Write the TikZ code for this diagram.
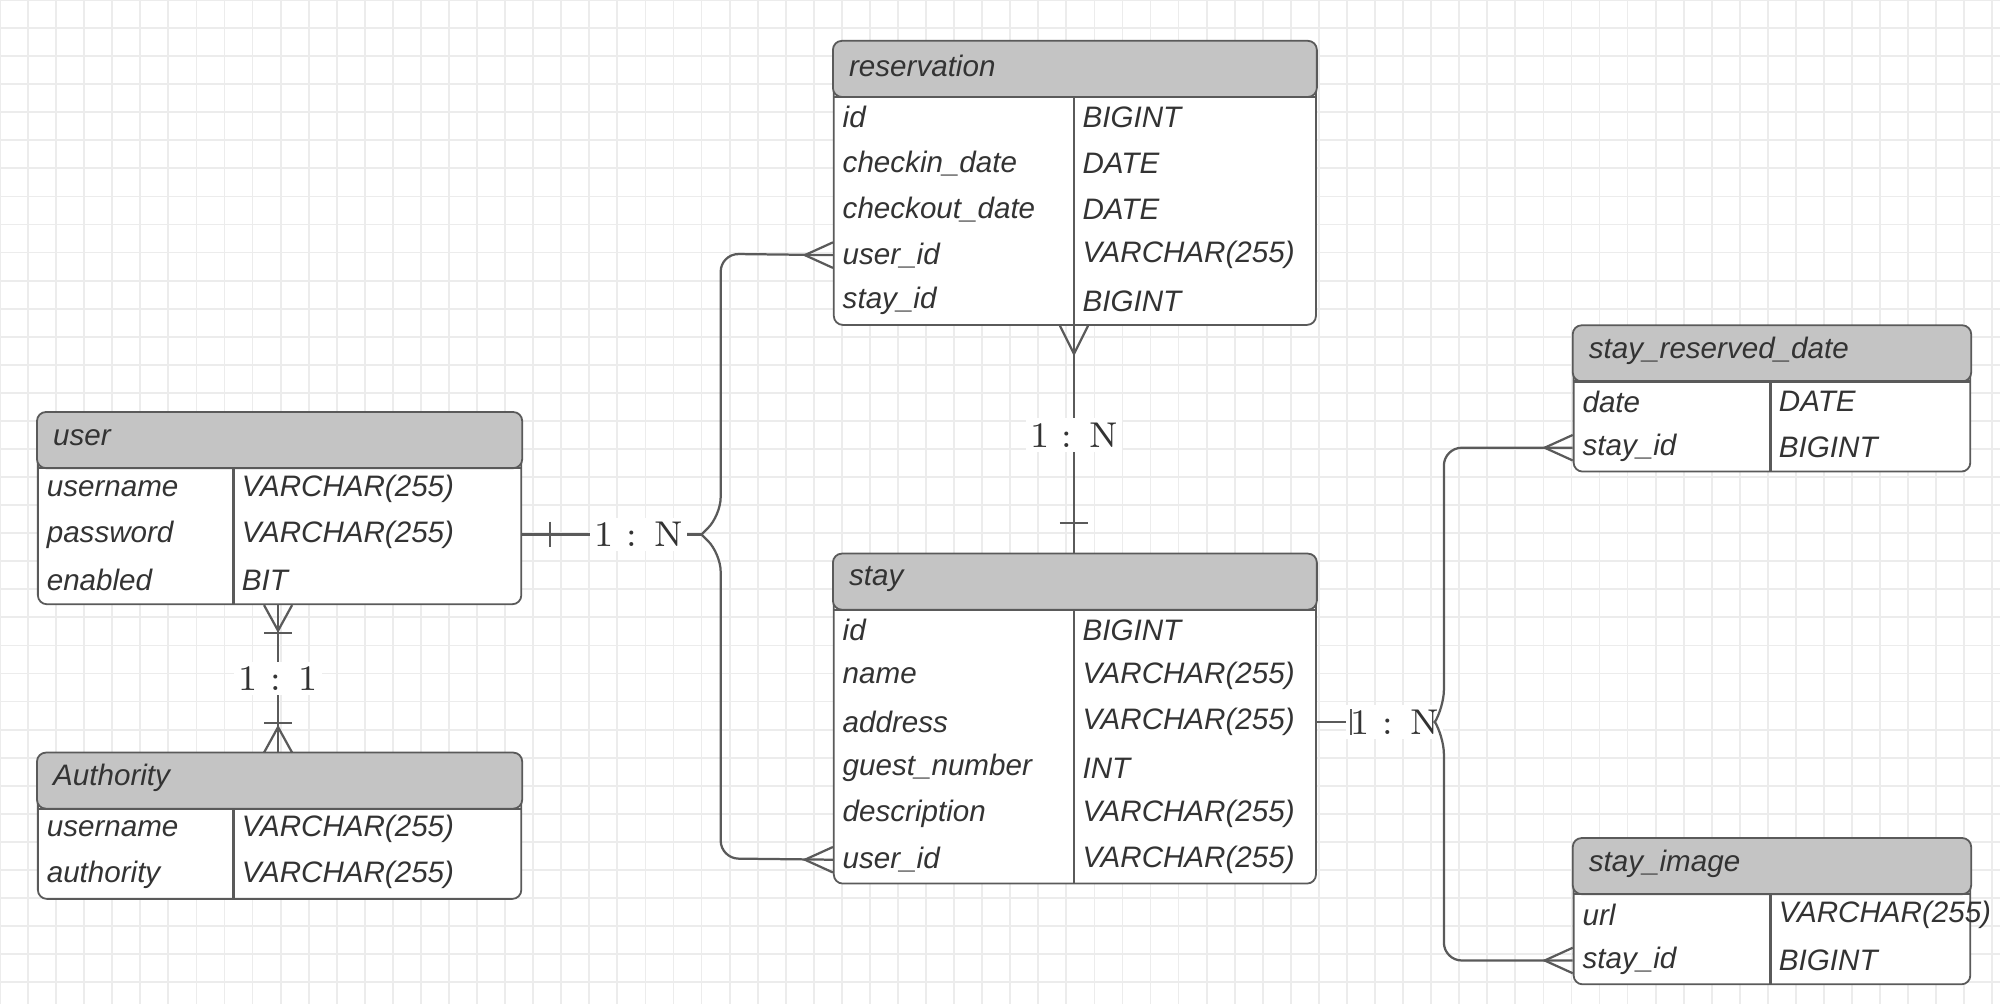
\documentclass[tikz,border=0pt]{standalone}
\usepackage{fontspec}
\setmainfont{Liberation Sans}
\newfontfamily\relfont{Latin Modern Roman}
\usetikzlibrary{calc}
\definecolor{headgray}{RGB}{196,196,196}
\definecolor{linegray}{RGB}{90,90,90}
\tikzset{
    ebox/.style={draw=linegray, fill=white, rounded corners=2pt, inner sep=0pt},
    efield/.style={font=\fontsize{6.6}{8}\selectfont\itshape, text=black!80, inner sep=0pt},
    rel/.style={draw=linegray, line width=0.5pt},
    card/.style={font=\relfont\fontsize{8}{9}\selectfont, fill=white, inner sep=1pt, text=black!80}
}
% entity: name, title, top-left, width, column offset, rows, number of rows
\newcommand{\erentity}[7]{%
    \node[ebox, anchor=north west, minimum width=#4cm, minimum height={0.42cm+0.36cm*#7}] (#1) at (#3) {};
    \draw[draw=linegray, fill=headgray, rounded corners=2pt] (#1.north west) rectangle ($(#1.north east)+(0,-0.44)$);
    \draw[rel] ($(#1.north west)+(0,-0.44)$) -- ($(#1.north east)+(0,-0.44)$);
    \draw[rel] ($(#1.north west)+(#5,-0.44)$) -- ($(#1.south west)+(#5,0)$);
    \node[efield, anchor=west] at ($(#1.north west)+(0.12,-0.2)$) {#2};
    \foreach [count=\i] \f/\t in {#6} {
        \node[efield, anchor=west] (#1-f\i) at ($(#1.north west)+(0.07,-0.60-0.36*\i+0.36)$) {\f};
        \node[efield, anchor=west] (#1-t\i) at ($(#1.north west)+(#5+0.06,-0.60-0.36*\i+0.36)$) {\t};
    }
}
\begin{document}
\begin{tikzpicture}[x=1cm,y=1cm]
\useasboundingbox (0,0) rectangle (15.68,-7.87);
% grid
\draw[gray!15, step=0.22] (0,-7.87) grid (15.68,0);

% entities
\erentity{user}{user}{0.29,-3.23}{3.79}{1.54}{username/VARCHAR(255),password/VARCHAR(255),enabled/BIT}{3}
\erentity{auth}{Authority}{0.29,-5.90}{3.79}{1.54}{username/VARCHAR(255),authority/VARCHAR(255)}{2}
\erentity{res}{reservation}{6.53,-0.32}{3.78}{1.89}{id/BIGINT,checkin\_date/DATE,checkout\_date/DATE,user\_id/VARCHAR(255),stay\_id/BIGINT}{5}
\erentity{stay}{stay}{6.53,-4.34}{3.78}{1.89}{id/BIGINT,name/VARCHAR(255),address/VARCHAR(255),guest\_number/INT,description/VARCHAR(255),user\_id/VARCHAR(255)}{6}
\erentity{srd}{stay\_reserved\_date}{12.33,-2.55}{3.11}{1.55}{date/DATE,stay\_id/BIGINT}{2}
\erentity{img}{stay\_image}{12.33,-6.57}{3.11}{1.55}{url/VARCHAR(255),stay\_id/BIGINT}{2}

% user - Authority
\coordinate (ua1) at ($(user.south west)+(1.89,0)$);
\coordinate (ua2) at ($(auth.north west)+(1.89,0)$);
\draw[rel] (ua1) -- (ua2) node[card, midway] {1 : 1};
\draw[rel] ($(ua1)+(-0.11,0)$) -- ($(ua1)+(0,-0.2)$) -- ($(ua1)+(0.11,0)$);
\draw[rel] ($(ua1)+(-0.11,-0.22)$) -- ($(ua1)+(0.11,-0.22)$);
\draw[rel] ($(ua2)+(-0.11,0)$) -- ($(ua2)+(0,0.2)$) -- ($(ua2)+(0.11,0)$);
\draw[rel] ($(ua2)+(-0.11,0.23)$) -- ($(ua2)+(0.11,0.23)$);

% user - reservation / stay
\coordinate (uj) at (5.50,-4.19);
\draw[rel] (user.east |- user-f2) -- node[card, pos=0.65] {1 : N} (uj);
\draw[rel] ($(user.east |- user-f2)+(0.22,0.1)$) -- ++(0,-0.2);
\draw[rel, rounded corners=4pt] (uj) -- (5.65,-4.04) -- (5.65,-1.99) -- (res.west |- res-f4);
\draw[rel, rounded corners=4pt] (uj) -- (5.65,-4.34) -- (5.65,-6.73) -- (stay.west |- stay-f6);
\foreach \n in {res-f4,stay-f6} {
    \draw[rel] ($(stay.west |- \n)+(0,0.1)$) -- ($(stay.west |- \n)+(-0.22,0)$) -- ($(stay.west |- \n)+(0,-0.1)$);
}

% reservation - stay
\coordinate (rs1) at ($(res.south west)+(1.89,0)$);
\coordinate (rs2) at ($(stay.north west)+(1.89,0)$);
\draw[rel] (rs1) -- node[card, pos=0.48] {1 : N} (rs2);
\draw[rel] ($(rs1)+(-0.11,0)$) -- ($(rs1)+(0,-0.22)$) -- ($(rs1)+(0.11,0)$);
\draw[rel] ($(rs2)+(-0.11,0.24)$) -- ($(rs2)+(0.11,0.24)$);

% stay - stay_reserved_date / stay_image
\coordinate (sj) at (11.25,-5.66);
\draw[rel] (stay.east |- stay-f3) -- node[card, pos=0.66] {1 : N} (sj);
\draw[rel] ($(stay.east |- stay-f3)+(0.27,0.1)$) -- ++(0,-0.2);
\draw[rel, rounded corners=4pt] (sj) -- (11.32,-5.55) -- (11.32,-3.51) -- (srd.west |- srd-f2);
\draw[rel, rounded corners=4pt] (sj) -- (11.32,-5.77) -- (11.32,-7.53) -- (img.west |- img-f2);
\foreach \n in {srd-f2,img-f2} {
    \draw[rel] ($(srd.west |- \n)+(0,0.1)$) -- ($(srd.west |- \n)+(-0.22,0)$) -- ($(srd.west |- \n)+(0,-0.1)$);
}
\end{tikzpicture}
\end{document}
